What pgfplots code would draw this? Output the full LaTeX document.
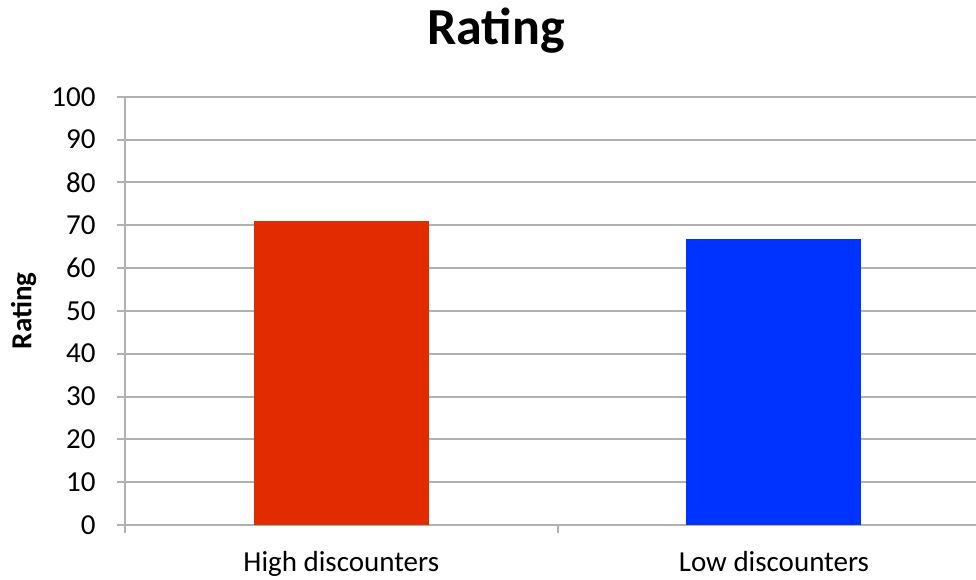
\documentclass[border=0pt]{standalone}
\usepackage{pgfplots}
\pgfplotsset{compat=1.18}
\usepackage{fontspec}
\setmainfont{Carlito}
\definecolor{barred}{RGB}{227,43,0}
\definecolor{barblue}{RGB}{0,51,255}
\definecolor{gridgray}{RGB}{176,176,176}
\begin{document}
\begin{tikzpicture}
\begin{axis}[
  scale only axis, width=851pt, height=428.3pt,
  xmin=-0.5, xmax=1.467, ymin=0, ymax=100,
  axis x line*=bottom, axis y line*=left,
  axis line style={gridgray, line width=2pt},
  ytick={0,10,...,100},
  ymajorgrids, grid style={gridgray, line width=2pt},
  xtick={-0.5,0.5,1.5}, xticklabels={},
  extra x ticks={0,1}, extra x tick labels={High discounters,Low discounters},
  extra x tick style={grid=none, major tick length=0pt, tick style={draw=none},
    xticklabel style={yshift=-23pt}},
  tick align=outside, major tick length=8pt,
  tick style={gridgray, line width=2pt},
  ticklabel style={font=\fontsize{29}{34}\selectfont, text=black},
  yticklabel style={xshift=-18pt},
  /pgf/number format/assume math mode=true,
  ylabel={Rating}, ylabel style={font=\bfseries\fontsize{29}{34}\selectfont,
    at={(axis description cs:-0.119,0.5)}, anchor=center},
  title={Rating}, title style={font=\bfseries\fontsize{52}{60}\selectfont, at={(axis description cs:0.436,1)}, anchor=base, yshift=46pt},
]
\addplot[ybar, bar width=175pt, bar shift=0pt, fill=barred, draw=none] coordinates {(0,71)};
\addplot[ybar, bar width=175pt, bar shift=0pt, fill=barblue, draw=none] coordinates {(1,66.7)};
\end{axis}
\pgfresetboundingbox
\path ([xshift=-125pt,yshift=-55pt]current axis.south west) rectangle ([yshift=96.7pt]current axis.north east);
\end{tikzpicture}
\end{document}
